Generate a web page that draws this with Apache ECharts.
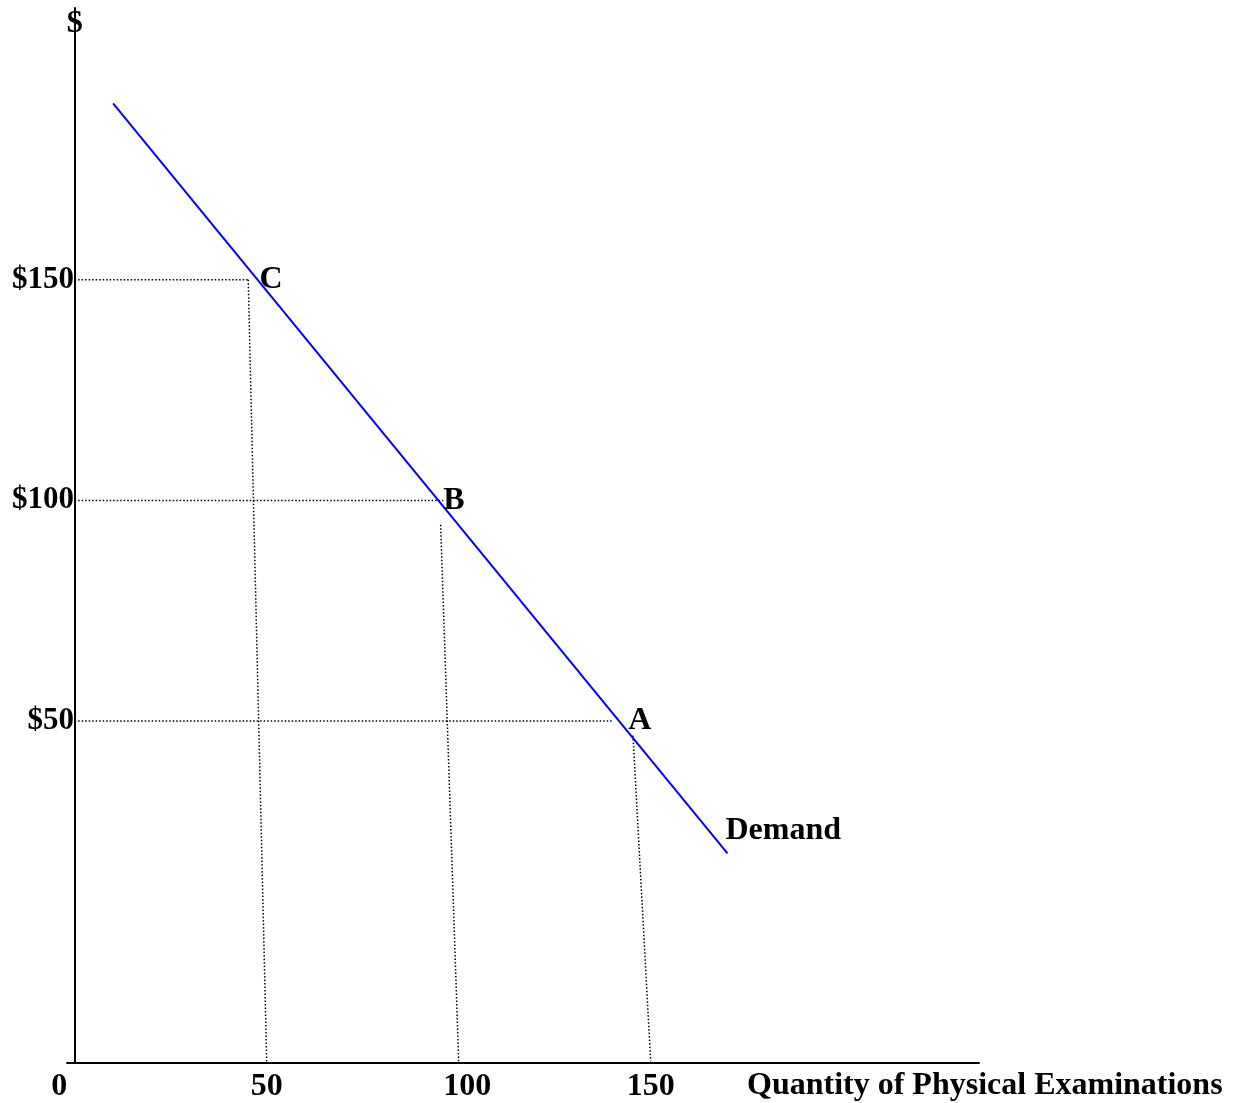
<!DOCTYPE html>
<html>
<head>
<meta charset="utf-8">
<script src="https://cdn.jsdelivr.net/npm/echarts@6/dist/echarts.min.js"></script>
<style>
html,body{margin:0;padding:0;background:#fff;}
#chart{width:1233px;height:1103px;}
</style>
</head>
<body>
<div id="chart"></div>
<script>
// ---- data ----
const quantityTicks = [0, 50, 100, 150];
const priceTicks = [50, 100, 150];
const demandQ = [10, 170];
const demandP = [190, 20];
const pointNames = ['C', 'B', 'A'];
const pointQ = [47.6, 94.7, 141.8];
const pointP = [150, 100, 50];
const guideEndQ = [45.2, 96, 140];          // horizontal dotted guides end
const dropTopQ = [45.2, 95.3, 145.4];        // vertical dotted guides start
const dropTopP = [150, 94.5, 46.7];
const dropBottomQ = [50, 100, 150];          // vertical dotted guides end on the axis
const axisFloorP = -27.5;                    // price level where the quantity axis is drawn
const axisTopP = 211.6;
const axisMinQ = -2;
const axisMaxQ = 235.5;

const FONT = '"Liberation Serif", "Times New Roman", serif';
const txt = { fontFamily: FONT, fontWeight: 'bold', fontSize: 32, color: '#000', lineHeight: 32 };
const txtY = { ...txt, fontSize: 31, lineHeight: 31 };
const dotted = { color: '#000', width: 1.5, type: [1.5, 2] };

const series = [];
// horizontal dotted guides
pointP.forEach((p, i) => {
  series.push({
    type: 'line', silent: true, symbol: 'none',
    data: [[0, p], [guideEndQ[i], p]],
    lineStyle: dotted
  });
});
// vertical dotted guides
dropTopQ.forEach((q, i) => {
  series.push({
    type: 'line', silent: true, symbol: 'none',
    data: [[q, dropTopP[i]], [dropBottomQ[i], axisFloorP + 0.4]],
    lineStyle: dotted
  });
});
// demand curve
series.push({
  type: 'line', name: 'Demand', symbol: 'none', z: 5,
  data: demandQ.map((q, i) => [q, demandP[i]]),
  lineStyle: { color: '#0000ff', width: 2 },
  endLabel: {
    show: true, formatter: 'Demand', offset: [-10, -23],
    ...txt
  }
});
// point labels
const labelDist = [2, 5, 9];
series.push({
  type: 'scatter', symbolSize: 0, z: 6,
  itemStyle: { opacity: 1, color: '#000' },
  data: pointNames.map((n, i) => ({
    name: n, value: [pointQ[i], pointP[i]],
    label: { distance: labelDist[i] }
  })),
  label: {
    show: true, position: 'right', formatter: p => p.name,
    ...txt
  }
});

const chart = echarts.init(document.getElementById('chart'));
chart.setOption({
  animation: false,
  backgroundColor: '#fff',
  grid: { left: 67, right: 254, top: 8, bottom: 38, containLabel: false },
  xAxis: {
    type: 'value', min: axisMinQ, max: axisMaxQ,
    name: 'Quantity of Physical Examinations',
    nameLocation: 'end', nameGap: -232,
    nameTextStyle: { ...txt, verticalAlign: 'top', align: 'left', padding: [7, 0, 0, 0] },
    axisLine: { onZero: false, lineStyle: { color: '#000', width: 2 } },
    axisTick: { show: false },
    splitLine: { show: false },
    axisLabel: {
      customValues: quantityTicks,
      margin: 8,
      formatter: v => v === 0 ? '{z|0}' : (v === 100 ? '{h|100}' : '{n|' + v + '}'),
      rich: {
        z: { ...txt, padding: [0, 31, 0, 0] },
        h: { ...txt, padding: [0, 0, 0, 17] },
        n: { ...txt }
      }
    }
  },
  yAxis: {
    type: 'value', min: axisFloorP, max: axisTopP,
    name: '$', nameLocation: 'end', nameGap: -16,
    nameTextStyle: { ...txt, verticalAlign: 'middle', align: 'center' },
    axisLine: { onZero: true, lineStyle: { color: '#000', width: 2 } },
    axisTick: { show: false },
    splitLine: { show: false },
    axisLabel: {
      customValues: priceTicks,
      margin: -7,
      formatter: v => '$' + v,
      ...txtY
    }
  },
  series: series
});
</script>
</body>
</html>
